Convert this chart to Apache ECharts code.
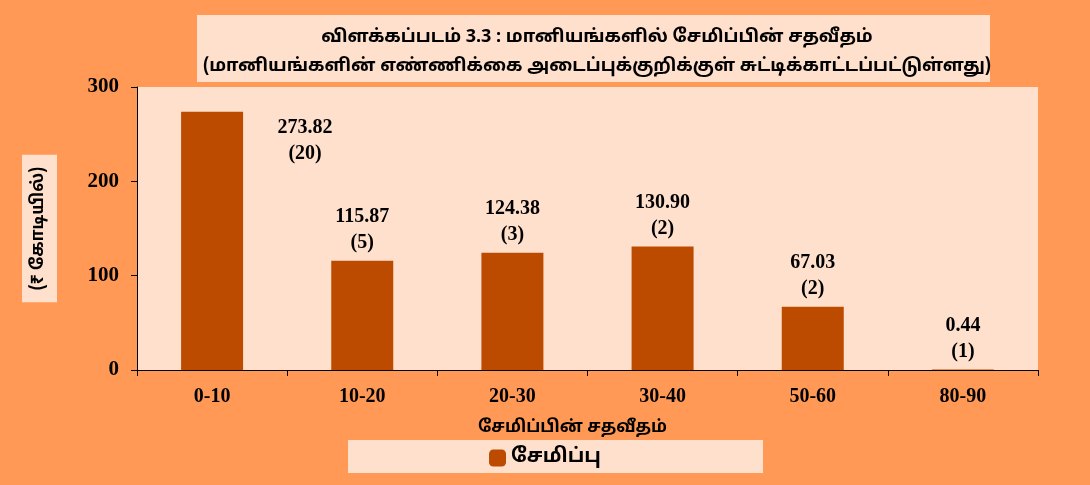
<!DOCTYPE html>
<html>
<head>
<meta charset="utf-8">
<script src="https://cdn.jsdelivr.net/npm/echarts@6/dist/echarts.min.js"></script>
<style>
  html, body { margin: 0; padding: 0; background: #FF9955; }
  #main { width: 1090px; height: 485px; }
</style>
</head>
<body>
<div id="main"></div>
<script>
	var categories = ['0-10', '10-20', '20-30', '30-40', '50-60', '80-90'];
	var savings = [273.82, 115.87, 124.38, 130.90, 67.03, 0.44];
	var counts = [20, 5, 3, 2, 2, 1];
	var yTicks = [0, 100, 200, 300];

	var tamil = '"Noto Sans Tamil", "Noto Sans", "DejaVu Sans", sans-serif';
	var serif = '"Liberation Serif", "DejaVu Serif", serif';

	var barData = savings.map(function (v, i) {
		var item = { value: v };
		if (i === 0) {
			// first label sits beside the tall bar
			item.label = { position: [124, 3], align: 'center', verticalAlign: 'top' };
		}
		return item;
	});

	var chart = echarts.init(document.getElementById('main'));
	chart.setOption({
		backgroundColor: '#FF9955',
		animation: false,
		graphic: [
			{ type: 'rect', left: 197, top: 15, shape: { width: 793, height: 67 }, style: { fill: '#FFE0CC' }, z: -1 },
			{ type: 'rect', left: 348, top: 440, shape: { width: 415, height: 33 }, style: { fill: '#FFE0CC' }, z: -1 }
		],
		title: {
			text: 'விளக்கப்படம் 3.3 : மானியங்களில் சேமிப்பின் சதவீதம்\n(மானியங்களின் எண்ணிக்கை அடைப்புக்குறிக்குள் சுட்டிக்காட்டப்பட்டுள்ளது)',
			left: 592,
			top: 19,
			textAlign: 'center',
			textStyle: { fontFamily: tamil, fontWeight: 'bold', fontSize: 18, lineHeight: 29, color: '#000' }
		},
		legend: {
			data: ['சேமிப்பு'],
			left: 'center',
			top: 443,
			itemWidth: 17,
			itemHeight: 17,
			itemGap: 6,
			textStyle: { fontFamily: tamil, fontWeight: 'bold', fontSize: 20, color: '#000' }
		},
		grid: { left: 137, right: 52, top: 87, bottom: 115, backgroundColor: '#FFE0CC', show: true, borderWidth: 0 },
		xAxis: {
			type: 'category',
			data: categories,
			name: 'சேமிப்பின் சதவீதம்',
			nameLocation: 'middle',
			nameGap: 50,
			nameTextStyle: { fontFamily: tamil, fontWeight: 'bold', fontSize: 17, color: '#000', padding: [0, 30, 0, 0] },
			axisLine: { lineStyle: { color: '#000' } },
			axisTick: { show: true, length: 6, lineStyle: { color: '#000' } },
			axisLabel: { fontFamily: serif, fontWeight: 'bold', fontSize: 20, color: '#000', margin: 17 }
		},
		yAxis: {
			type: 'value',
			min: yTicks[0],
			max: yTicks[yTicks.length - 1],
			interval: 100,
			name: '(₹ கோடியில்)',
			nameLocation: 'middle',
			nameRotate: 90,
			nameGap: 80,
			nameTextStyle: {
				fontFamily: tamil, fontWeight: 'bold', fontSize: 17, color: '#000',
				backgroundColor: '#FFE0CC', padding: [9, 12, 9, 12]
			},
			splitLine: { show: false },
			axisLine: { show: true, lineStyle: { color: '#000' } },
			axisTick: { show: true, length: 6, lineStyle: { color: '#000' } },
			axisLabel: { fontFamily: serif, fontWeight: 'bold', fontSize: 21, color: '#000', margin: 18 }
		},
		series: [{
			name: 'சேமிப்பு',
			type: 'bar',
			data: barData,
			barWidth: 62,
			itemStyle: { color: '#BC4B00' },
			label: {
				show: true,
				position: 'top',
				distance: 5,
				fontFamily: serif,
				fontWeight: 'bold',
				fontSize: 20,
				lineHeight: 26,
				color: '#000',
				formatter: function (p) {
					return p.value.toFixed(2) + '\n(' + counts[p.dataIndex] + ')';
				}
			}
		}]
	});
</script>
</body>
</html>
